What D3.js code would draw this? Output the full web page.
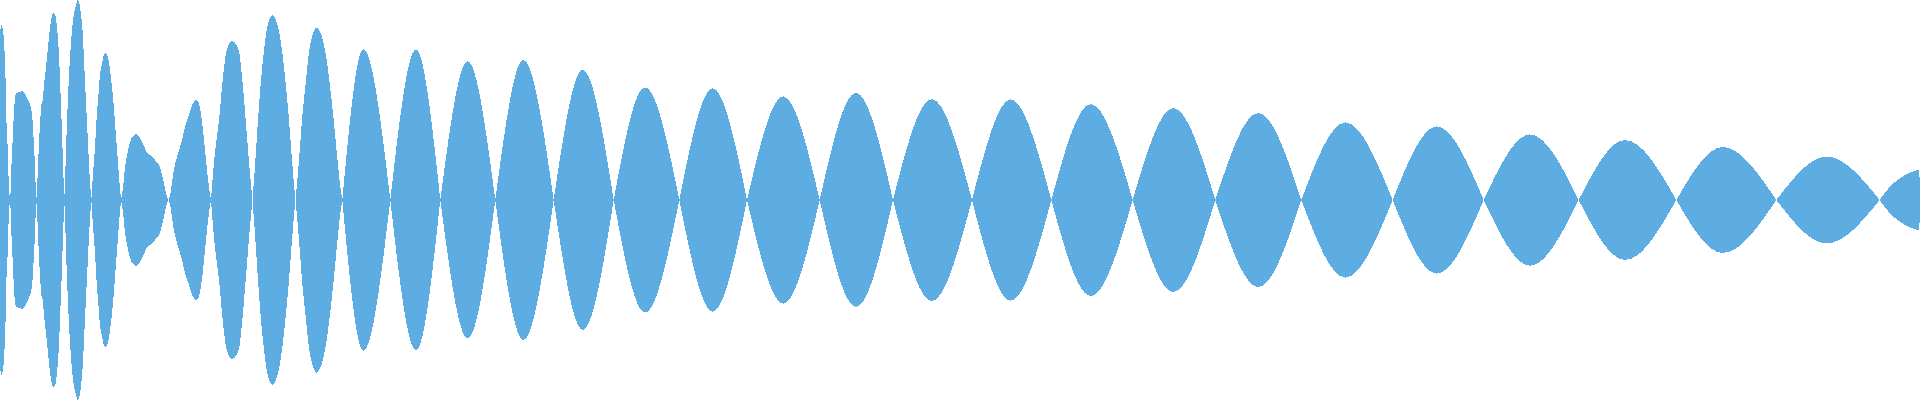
<!DOCTYPE html>
<html>
<head>
<meta charset="utf-8">
<script src="https://cdn.jsdelivr.net/npm/d3@7"></script>
<style>
  body { margin: 0; background: #fff; }
</style>
</head>
<body>
<div id="wave"></div>
<script>
// envelope of the waveform: sample position (ms) and amplitude (0..1), 0 marks a crossing
const sampleT = [
  0, 1.5, 3, 4.3, 5.3, 6.3, 7.3, 8.3, 9.3, 10.3,
  11, 12.3, 13.3, 14.3, 15.3, 16.7, 20, 23, 25, 26.7, 29.3, 31, 32.3, 33.3, 34.7, 35.7, 36.3,
  37.3, 38.3, 39.3, 40.3, 41.3, 42.7, 44, 45.7, 47.3, 49, 50.7, 52, 53.3, 55, 56, 57.3, 58.3, 59.3, 60.3, 61.3, 62.3, 63.3, 64.3,
  65.3, 66.7, 68, 69.3, 70.7, 72, 73.3, 74.7, 76, 78, 80, 81.3, 82.7, 84, 85.3, 86.7, 88, 89.3, 90.7, 91.3,
  93.3, 95, 96.7, 98.3, 100, 101.7, 103.3, 105.3, 107.3, 109, 111, 113.3, 115.3, 117.3, 119.3, 121,
  123.3, 125, 126.7, 128.7, 130.7, 133.3, 136.7, 139.3, 142, 144.3, 146.7, 150, 153.3, 156.7, 159.3, 161.3, 163.3, 165, 166.7, 168.7,
  170.7, 173.3, 176.7, 180, 182.7, 185, 187.3, 190, 192, 194, 196, 198, 199.3, 200.7, 202.7, 204.7, 206.7, 208.7, 211,
  213.3, 216, 219, 222.7, 226.7, 232, 238.7, 242.3, 245.7, 248.5, 251.5, 252.5,
  255, 258, 261, 264, 266.7, 272.3, 278.7, 282, 285.3, 289, 292, 294.7, 295.5,
  299, 302, 306, 309.3, 313.3, 316.7, 320.7, 325, 329.3, 333.7, 337.5, 340.5, 342.3,
  363.3, 390.3,
  416, 440.3,
  467.7, 495.3,
  523.3, 553.7,
  582.7, 613.7,
  645, 679.3,
  712.7, 747,
  783.3, 819.7,
  856, 893,
  931.7, 972,
  1010.7, 1051.3,
  1090.7, 1132.7,
  1173.3, 1215.3,
  1258.3, 1301.3,
  1345.3, 1392.7,
  1436.7, 1483.7,
  1530, 1578.7,
  1625, 1676.3,
  1722.7, 1776.3,
  1826.7, 1879.7,
  1890, 1900, 1910, 1918.3, 1920
];
const sampleAmp = [
  0.835, 0.875, 0.85, 0.765, 0.66, 0.415, 0.315, 0.15, 0.04, 0,
  0.115, 0.26, 0.375, 0.465, 0.525, 0.535, 0.54, 0.545, 0.53, 0.515, 0.485, 0.46, 0.415, 0.335, 0.2, 0.065, 0,
  0.085, 0.205, 0.315, 0.4, 0.475, 0.5, 0.575, 0.65, 0.73, 0.815, 0.885, 0.92, 0.935, 0.93, 0.905, 0.85, 0.785, 0.69, 0.56, 0.435, 0.29, 0.14, 0,
  0.135, 0.35, 0.515, 0.65, 0.765, 0.85, 0.91, 0.95, 0.975, 1, 0.965, 0.915, 0.835, 0.7, 0.565, 0.415, 0.285, 0.15, 0.04, 0,
  0.15, 0.265, 0.415, 0.515, 0.625, 0.675, 0.715, 0.735, 0.725, 0.69, 0.61, 0.5, 0.365, 0.235, 0.1, 0,
  0.075, 0.165, 0.215, 0.265, 0.3, 0.32, 0.33, 0.315, 0.29, 0.265, 0.24, 0.225, 0.21, 0.19, 0.175, 0.14, 0.1, 0.06, 0.02, 0,
  0.04, 0.135, 0.21, 0.265, 0.315, 0.365, 0.4, 0.44, 0.475, 0.49, 0.5, 0.495, 0.475, 0.44, 0.365, 0.265, 0.165, 0.075, 0,
  0.15, 0.28, 0.4, 0.6, 0.75, 0.795, 0.75, 0.6, 0.4, 0.22, 0.05, 0,
  0.17, 0.4, 0.6, 0.75, 0.85, 0.925, 0.85, 0.75, 0.6, 0.4, 0.2, 0.04, 0,
  0.2, 0.4, 0.6, 0.75, 0.835, 0.863, 0.835, 0.75, 0.6, 0.4, 0.2, 0.06, 0,
  0.755, 0,
  0.753, 0,
  0.693, 0,
  0.70, 0,
  0.65, 0,
  0.563, 0,
  0.558, 0,
  0.518, 0,
  0.535, 0,
  0.505, 0,
  0.503, 0,
  0.48, 0,
  0.46, 0,
  0.435, 0,
  0.388, 0,
  0.368, 0,
  0.328, 0,
  0.30, 0,
  0.265, 0,
  0.217, 0,
  0.067, 0.108, 0.137, 0.15, 0.09
];

const width = 1920, height = 400;

const svg = d3.select("#wave").append("svg")
  .attr("width", width)
  .attr("height", height);

const x = d3.scaleLinear().domain([0, 1920]).range([0, width]);
const y = d3.scaleLinear().domain([-1, 1]).range([height, 0]);

const points = sampleT.map((t, i) => ({ t: t, a: sampleAmp[i] }));

// split into lobes at each crossing so every lobe meets the next in a point
const lobes = [];
let cur = [];
points.forEach(function (p) {
  cur.push(p);
  if (p.a === 0 && cur.length > 1) {
    lobes.push(cur);
    cur = [p];
  }
});
if (cur.length > 1) lobes.push(cur);

const area = d3.area()
  .x(d => x(d.t))
  .y0(d => y(-d.a))
  .y1(d => y(d.a))
  .curve(d3.curveMonotoneX);

svg.append("g")
  .selectAll("path")
  .data(lobes)
  .join("path")
  .attr("d", area)
  .attr("fill", "#5dade2")
  .attr("shape-rendering", "crispEdges");
</script>
</body>
</html>
